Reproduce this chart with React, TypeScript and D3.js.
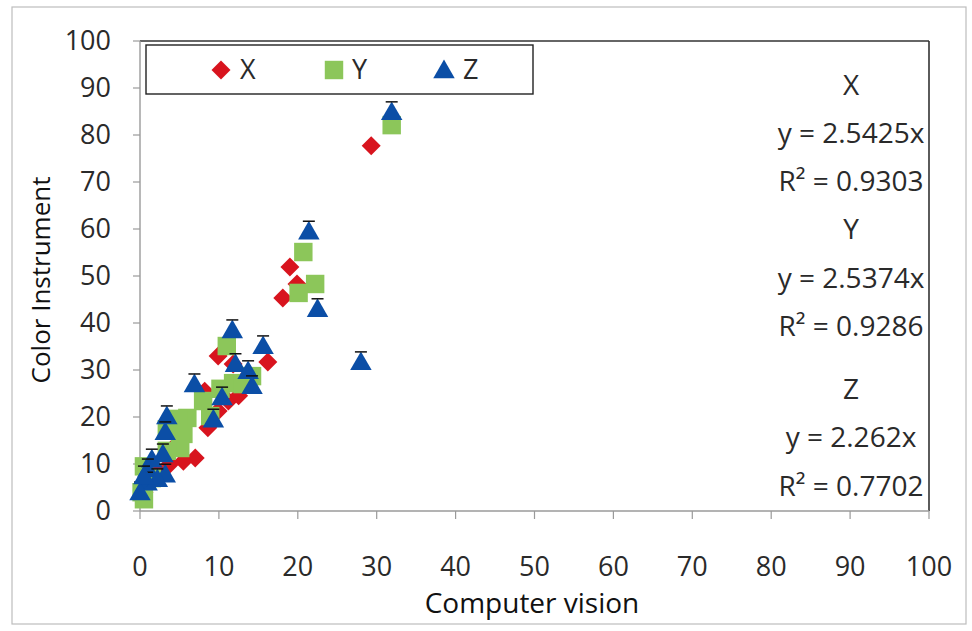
import React from 'react';
import * as d3 from 'd3';

// Computer vision (x) vs Color Instrument (y)
const seriesX: [number, number][] = [
  [29.3, 77.7], [19.0, 51.9], [19.9, 48.3], [18.1, 45.3], [16.2, 31.7], [9.9, 33.0],
  [11.8, 31.3], [8.2, 25.5], [11.2, 23.4], [9.9, 21.3], [8.6, 17.7], [12.5, 24.5],
  [7.0, 11.3], [5.5, 10.6], [3.8, 10.0], [2.3, 8.5], [1.2, 6.0], [0.5, 4.0], [13.5, 28.5], [4.5, 14.0],
];
const seriesY: [number, number][] = [
  [31.9, 82.1], [20.7, 55.1], [22.2, 48.3], [20.1, 46.4], [11.0, 35.1], [14.2, 28.7],
  [11.8, 27.2], [10.2, 26.0], [8.0, 23.4], [8.9, 20.2], [6.0, 19.8], [4.8, 19.6],
  [3.4, 17.4], [5.5, 16.4], [5.1, 13.4], [3.4, 12.8], [0.5, 9.5], [1.5, 7.0], [0.2, 4.0], [0.5, 2.5], [13.0, 27.0],
];
const seriesZ: [number, number][] = [
  [31.9, 84.5], [21.4, 59.1], [22.5, 42.6], [15.6, 34.7], [28.0, 31.3], [11.7, 38.1],
  [12.1, 30.9], [13.7, 29.4], [14.2, 26.2], [6.9, 26.6], [10.4, 23.8], [9.3, 19.1],
  [3.4, 19.8], [3.2, 16.4], [2.9, 11.7], [1.5, 10.6], [3.2, 7.4], [1.0, 8.5], [0.9, 5.7],
  [0.0, 3.6], [2.2, 6.4], [0.5, 7.0],
];
const seriesNames = ['X', 'Y', 'Z'];
const fitLabels = [
  ['X', 'y = 2.5425x', 'R² = 0.9303'],
  ['Y', 'y = 2.5374x', 'R² = 0.9286'],
  ['Z', 'y = 2.262x', 'R² = 0.7702'],
];
const xTicks = d3.range(0, 101, 10);
const yTicks = d3.range(0, 101, 10);

const W = 972;
const H = 631;
const FONT = '"Open Sans", "DejaVu Sans", sans-serif';
const colors = { X: '#d8141e', Y: '#8cc65a', Z: '#0b4ea6' };

const App = () => {
  const x = d3.scaleLinear().domain([0, 100]).range([140, 929]);
  const y = d3.scaleLinear().domain([0, 100]).range([511, 41]);

  const diamond = d3.symbol().type(d3.symbolSquare).size(180)()!;
  const square = d3.symbol().type(d3.symbolSquare).size(340)()!;
  const triangle = d3.symbol().type(d3.symbolTriangle).size(200)()!;

  const legendY = 70;
  const fitY = [[85, 133, 181], [229, 278, 326], [389, 437, 486]];

  return (
    <svg width={W} height={H} style={{ position: 'absolute', left: 0, top: 0, background: '#fff' }}>
      {/* chart area border */}
      <rect x={12} y={7} width={954} height={617} fill="#fff" stroke="#bdbdbd" strokeWidth={1.2} />

      {/* plot frame */}
      <line x1={x(0)} x2={x(100)} y1={y(100)} y2={y(100)} stroke="#333" strokeWidth={1.6} />
      <line x1={x(100)} x2={x(100)} y1={y(100)} y2={y(0)} stroke="#333" strokeWidth={1.6} />
      <line x1={x(0)} x2={x(0)} y1={y(100)} y2={y(0)} stroke="#9a9a9a" strokeWidth={1.4} />
      <line x1={x(0)} x2={x(100)} y1={y(0)} y2={y(0)} stroke="#9a9a9a" strokeWidth={1.4} />

      {/* y axis */}
      {yTicks.map(t => (
        <g key={'y' + t}>
          <line x1={x(0) - 7} x2={x(0)} y1={y(t)} y2={y(t)} stroke="#9a9a9a" strokeWidth={1.2} />
          <text x={111} y={y(t)} dy="0.35em" textAnchor="end" fontSize={27} fontFamily={FONT} fill="#2a2a2a">{t}</text>
        </g>
      ))}
      {/* x axis */}
      {xTicks.map(t => (
        <g key={'x' + t}>
          <line x1={x(t)} x2={x(t)} y1={y(0)} y2={y(0) + 8} stroke="#9a9a9a" strokeWidth={1.2} />
          <text x={x(t)} y={567} dy="0.35em" textAnchor="middle" fontSize={27} fontFamily={FONT} fill="#2a2a2a">{t}</text>
        </g>
      ))}

      <text x={532} y={613} textAnchor="middle" fontSize={28} fontFamily={FONT} fill="#111">Computer vision</text>
      <text transform="translate(50,280) rotate(-90)" textAnchor="middle" fontSize={26} fontFamily={FONT} fill="#111">Color Instrument</text>

      {/* points */}
      {seriesX.map((d, i) => (
        <path key={'px' + i} d={diamond} transform={`translate(${x(d[0])},${y(d[1])}) rotate(45)`} fill={colors.X} />
      ))}
      {seriesY.map((d, i) => (
        <path key={'py' + i} d={square} transform={`translate(${x(d[0])},${y(d[1])})`} fill={colors.Y} />
      ))}
      {seriesZ.map((d, i) => (
        <g key={'pz' + i} transform={`translate(${x(d[0])},${y(d[1])})`}>
          <path d={triangle} fill={colors.Z} />
          <line x1={-6} x2={6} y1={-12} y2={-12} stroke="#111" strokeWidth={1.5} />
        </g>
      ))}

      {/* legend */}
      <rect x={146} y={45} width={387} height={49} fill="#fff" stroke="#222" strokeWidth={1.4} />
      <path d={diamond} transform={`translate(221,${legendY}) rotate(45)`} fill={colors.X} />
      <path d={square} transform={`translate(334,${legendY})`} fill={colors.Y} />
      <path d={triangle} transform={`translate(444,${legendY + 2})`} fill={colors.Z} />
      {seriesNames.map((n, i) => (
        <text key={n} x={[240, 352, 463][i]} y={legendY} dy="0.35em" fontSize={27} fontFamily={FONT} fill="#2a2a2a">{n}</text>
      ))}

      {/* trendline labels */}
      {fitLabels.map((lines, i) =>
        lines.map((s, j) => (
          <text key={`f${i}${j}`} x={851} y={fitY[i][j]} dy="0.35em" textAnchor="middle" fontSize={28} fontFamily={FONT} fill="#2a2a2a">{s}</text>
        ))
      )}
    </svg>
  );
};

export default App;
